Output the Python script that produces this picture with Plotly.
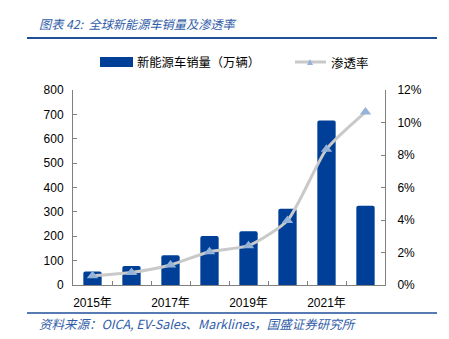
import plotly.graph_objects as go

years = ["2015", "2016", "2017", "2018", "2019", "2020", "2021", "2022"]
year_labels = ["2015年", "", "2017年", "", "2019年", "", "2021年", ""]
sales = [55, 78, 122, 201, 221, 313, 675, 325]
penetration = [0.0057, 0.0077, 0.0123, 0.0205, 0.0242, 0.0397, 0.0836, 0.1064]

bar_name = "新能源车销量（万辆）"
line_name = "渗透率"
title_text = "图表 42:  全球新能源车销量及渗透率"
source_text = "资料来源：OICA, EV-Sales、Marklines，国盛证券研究所"

BLUE = "#003f98"
TITLE_BLUE = "#2f5da8"
LINE_GRAY = "#c9c9c9"
MARKER_BLUE = "#95b3d7"
FONT = "Liberation Sans, Noto Sans CJK SC, sans-serif"
CJK = "Noto Sans CJK SC, sans-serif"

L, R, T, B = 73, 64, 90, 54
W, H = 449, 339
pw = W - L - R
ph = H - T - B


def px(x):
    return (x - L) / pw


def py(y):
    return (H - B - y) / ph


fig = go.Figure()
fig.add_trace(go.Bar(x=years, y=sales, name=bar_name,
                     marker=dict(color=BLUE, line=dict(width=0), cornerradius=2),
                     width=0.47, showlegend=False))
fig.add_trace(go.Scatter(x=years, y=penetration, name=line_name, yaxis="y2", mode="lines+markers",
                         line=dict(color=LINE_GRAY, width=3, shape="spline", smoothing=0.6),
                         marker=dict(symbol="triangle-up", size=10, color=MARKER_BLUE),
                         showlegend=False))

axis_common = dict(ticks="inside", ticklen=4, tickcolor="#808080", showline=True,
                   linecolor="#808080", linewidth=1, showgrid=False, tickfont=dict(size=12))

fig.update_layout(
    width=W, height=H,
    margin=dict(l=L, r=R, t=T, b=B),
    paper_bgcolor="white", plot_bgcolor="white",
    font=dict(family=FONT, size=12, color="#000000"),
    showlegend=False,
    xaxis=dict(type="category", tickvals=years, ticktext=year_labels, tickson="boundaries",
               range=[-0.5, 7.5], tickangle=0, ticklabelstandoff=7, **axis_common),
    yaxis=dict(range=[0, 800], dtick=100, zeroline=False, ticklabelstandoff=6, **axis_common),
    yaxis2=dict(range=[0, 0.12], dtick=0.02, tickformat=".0%", overlaying="y", side="right",
                zeroline=False, ticklabelstandoff=9, **axis_common),
)

# title and source
fig.add_annotation(text=title_text, x=px(37), y=py(24), xref="paper", yref="paper", showarrow=False,
                   xanchor="left", yanchor="middle",
                   font=dict(size=12.2, color=TITLE_BLUE, family=CJK, style="italic"))
fig.add_annotation(text=source_text, x=px(37), y=py(323), xref="paper", yref="paper", showarrow=False,
                   xanchor="left", yanchor="middle",
                   font=dict(size=12.5, color=TITLE_BLUE, family=CJK, style="italic"))
fig.add_shape(type="line", x0=px(27), x1=px(437), y0=py(38), y1=py(38), xref="paper", yref="paper",
              line=dict(color="#1f4e9a", width=2))
fig.add_shape(type="line", x0=px(27), x1=px(437), y0=py(313), y1=py(313), xref="paper", yref="paper",
              line=dict(color="#1f4e9a", width=1.5))

# legend (drawn manually)
fig.add_shape(type="rect", x0=px(100), x1=px(133), y0=py(67), y1=py(57), xref="paper", yref="paper",
              fillcolor=BLUE, line=dict(width=0))
fig.add_annotation(text=bar_name, x=px(135), y=py(62), xref="paper", yref="paper", showarrow=False,
                   xanchor="left", yanchor="middle", font=dict(size=12.3, family=CJK))
fig.add_shape(type="line", x0=px(295), x1=px(326), y0=py(62), y1=py(62), xref="paper", yref="paper",
              line=dict(color=LINE_GRAY, width=3))
fig.add_shape(type="path", xref="paper", yref="paper",
              path=f"M {px(307)} {py(65)} L {px(313)} {py(65)} L {px(310)} {py(59)} Z",
              fillcolor=MARKER_BLUE, line=dict(width=0))
fig.add_annotation(text=line_name, x=px(329), y=py(62), xref="paper", yref="paper", showarrow=False,
                   xanchor="left", yanchor="middle", font=dict(size=12.5, family=CJK))

fig.write_html("out.html")
